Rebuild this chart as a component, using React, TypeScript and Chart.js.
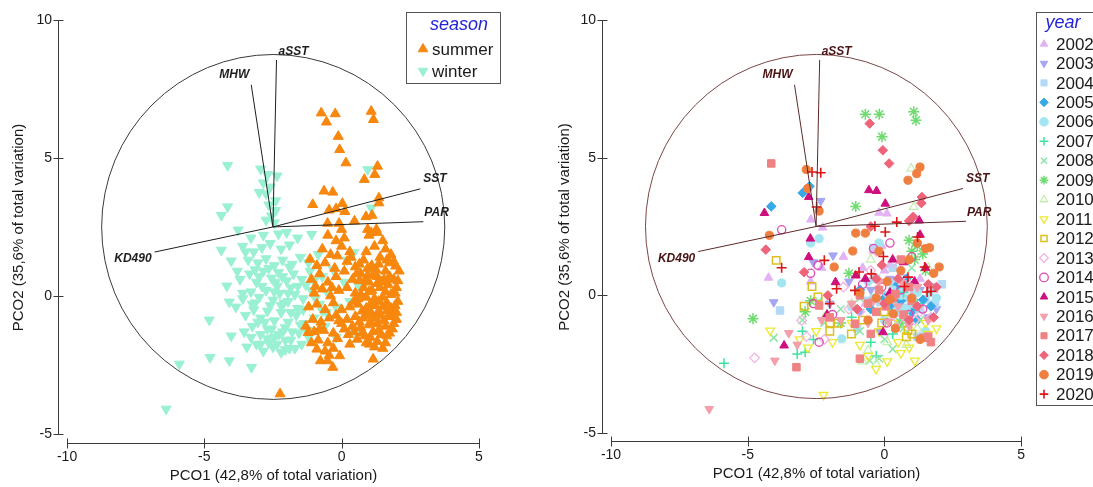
import React, { useEffect, useRef } from 'react';
import { Chart, registerables } from 'chart.js';
import { drawPoint } from 'chart.js/helpers';

Chart.register(...registerables);

const FONT = '"Liberation Sans", Arial, Helvetica, sans-serif';

// ---------------- data ----------------
const xTicks = [-10, -5, 0, 5];
const yTicks = [-5, 0, 5, 10];
const xTitle = 'PCO1 (42,8% of total variation)';
const yTitle = 'PCO2 (35,6% of total variation)';

const vectorNames = ['aSST', 'MHW', 'SST', 'PAR', 'KD490'];
const vectorX = [-2.37, -3.29, 2.87, 2.98, -6.81];
const vectorY = [8.55, 7.65, 3.88, 2.69, 1.59];
const vectorOrigin = [-2.5, 2.5];
const circleCenter = [-2.49, 2.5];
const circleRadius = 6.25;

const seasonNames = ['summer', 'winter'];
const summer: number[][] = [
  [-0.74, 6.63], [-0.23, 6.6], [-0.55, 6.3], [1.08, 6.69], [1.16, 6.39], [-0.12, 5.78], [-0.07, 5.3],
  [0.16, 4.82], [1.31, 4.7], [1.21, 4.4], [0.83, 4.22], [-0.64, 3.8], [-0.32, 3.76], [-1.05, 3.31],
  [1.36, 3.55], [1.36, 3.37], [0.03, 3.35], [-0.45, 3.11], [-0.2, 3.16], [0.12, 3.06], [0.47, 2.71],
  [0.89, 2.87], [1.11, 2.92], [-0.51, 2.63], [-0.09, 2.63], [0.0, 2.41], [0.95, 2.41], [1.27, 2.41],
  [1.08, 2.29], [-2.24, -3.55],
  [-0.5, 2.2], [-0.2, 2.0], [0.1, 2.1], [0.0, 1.8], [-0.7, 1.7], [-0.4, 1.5], [0.3, 1.6], [1.0, 2.2],
  [1.3, 2.3], [1.5, 2.0], [1.2, 1.8], [0.9, 1.6], [1.6, 1.7], [1.8, 1.5], [1.4, 1.4], [-1.15, 1.33],
  [-0.9, 1.1], [-0.6, 1.2], [-0.25, 1.0], [0.2, 1.25], [0.5, 1.05], [0.8, 1.3], [1.1, 1.1], [1.97, 1.08],
  [2.1, 0.9], [1.75, 1.2],
  [-1.1, 0.6], [-0.8, 0.8], [-0.5, 0.5], [-0.2, 0.7], [0.1, 0.9], [0.4, 0.6], [0.7, 0.8], [1.0, 0.5],
  [1.3, 0.7], [1.6, 0.9], [1.9, 0.6], [2.0, 0.3], [1.7, 0.4], [1.4, 0.3], [1.1, 0.2], [0.8, 0.3],
  [0.5, 0.1], [0.2, 0.3], [-0.1, 0.2], [-0.4, 0.0], [-0.7, 0.25], [-1.0, 0.1], [1.8, 0.05], [1.5, -0.05],
  [1.2, -0.1], [0.9, -0.05], [2.05, -0.2], [0.65, 0.55], [1.25, 0.95], [1.55, 0.6], [0.95, 0.75],
  [-1.2, -0.4], [-0.9, -0.3], [-0.6, -0.5], [-0.3, -0.25], [0.0, -0.5], [0.3, -0.4], [0.6, -0.3],
  [0.9, -0.45], [1.2, -0.35], [1.5, -0.4], [1.8, -0.45], [2.0, -0.6], [1.7, -0.75], [1.4, -0.7],
  [1.1, -0.65], [0.8, -0.8], [0.5, -0.75], [0.2, -0.85], [-0.1, -0.9], [-0.45, -0.8], [-0.75, -0.95],
  [-1.05, -0.85], [-1.3, -1.1], [-1.0, -1.3], [-0.65, -1.25], [-0.3, -1.35], [0.1, -1.2], [0.4, -1.1],
  [0.7, -1.15], [1.0, -1.05], [1.3, -1.0], [1.6, -1.1], [1.9, -1.0], [1.75, -1.35], [1.45, -1.4],
  [1.15, -1.3], [0.85, -1.45], [-1.22, -1.33], [-0.85, -1.6], [-0.5, -1.7], [-0.15, -1.55], [0.57, -1.57],
  [1.02, -1.75], [1.3, -1.65], [1.6, -1.7], [-0.9, -1.93], [-0.6, -2.0], [-0.3, -1.9], [-0.77, -2.35],
  [-0.51, -2.35], [-0.32, -2.59], [-0.07, -2.17], [1.15, -2.29], [0.0, -1.0], [0.25, -1.4],
  [0.75, -0.55], [1.35, -0.2], [1.65, -0.25], [0.45, -0.2], [1.05, -0.95], [1.85, -0.75],
  [0.65, 1.15], [0.95, 1.0], [1.35, 1.15], [1.65, 1.3], [1.9, 1.25], [0.55, 0.8], [0.85, 0.55],
  [1.15, 0.75], [1.45, 0.5], [1.75, 0.7], [2.05, 0.55], [0.7, 0.05], [1.0, 0.15], [1.3, 0.45],
  [1.6, 0.15], [1.95, 0.1], [0.6, -0.1], [1.05, -0.3], [1.35, -0.55], [1.65, -0.55], [1.95, -0.35],
  [0.65, -0.95], [0.95, -0.7], [1.25, -0.8], [1.55, -0.9], [1.85, -1.2], [0.75, -1.35], [1.05, -1.5],
  [1.35, -1.25], [1.65, -1.45], [2.0, -0.85], [0.9, -1.7], [1.2, -1.85], [1.5, -1.9], [0.45, -1.3],
  [-0.8, -1.2], [-1.1, -1.7], [-0.45, -2.15], [-0.2, -0.7], [0.3, -1.75], [-0.95, 0.35], [-0.35, 0.3],
  [0.35, 1.4], [-0.15, 1.45],
];
const winter: number[][] = [
  [-2.95, 4.6], [-2.7, 4.4], [-2.35, 4.35], [-2.85, 4.1], [-2.6, 3.95], [-3.0, 3.75], [-2.75, 3.7],
  [-2.4, 3.45], [-2.65, 3.3], [-2.4, 3.1], [-2.55, 2.9], [-2.75, 2.75], [-2.45, 2.65], [-4.15, 4.73],
  [-4.38, 2.92], [-4.15, 3.23], [-3.77, 2.39], [-3.3, 2.1], [-2.85, 2.2], [-2.3, 2.25], [-2.0, 2.3],
  [-4.38, 1.66], [-4.02, 1.27], [-3.6, 1.8], [-3.2, 1.6], [-2.9, 1.75], [-2.6, 1.9], [-2.2, 1.7],
  [-1.9, 1.85], [-1.6, 2.1], [-1.09, 2.23], [-3.4, 1.3], [-3.05, 1.2], [-2.75, 1.35], [-2.45, 1.1],
  [-2.15, 1.3], [-1.8, 1.15], [-1.5, 1.4], [-1.2, 1.2], [-0.85, 1.5], [0.44, 1.57], [0.2, 1.3],
  [-4.18, 0.36], [-3.7, 0.6], [-3.35, 0.8], [-3.1, 0.5], [-2.85, 0.9], [-2.55, 0.65], [-2.3, 0.85],
  [-2.0, 0.55], [-1.75, 0.8], [-1.45, 0.6], [-1.15, 0.9], [-0.7, 0.7], [-0.3, 0.95], [0.1, 0.5],
  [0.6, 0.4], [1.0, 0.9], [-4.09, -0.22], [-3.6, -0.1], [-3.3, 0.15], [-3.0, -0.05], [-2.75, 0.2],
  [-2.5, -0.15], [-2.25, 0.1], [-1.95, -0.2], [-1.7, 0.05], [-1.4, -0.1], [-1.1, 0.2], [-0.8, -0.3],
  [-0.5, 0.1], [-0.2, -0.4], [0.3, -0.2], [-4.82, -0.87], [-4.02, -1.45], [-3.5, -0.7], [-3.2, -0.5],
  [-2.95, -0.8], [-2.7, -0.55], [-2.45, -0.9], [-2.2, -0.6], [-1.95, -0.95], [-1.65, -0.7], [-1.35, -1.0],
  [-1.0, -0.8], [-0.6, -1.1], [-3.55, -1.3], [-3.25, -1.1], [-2.95, -1.4], [-2.7, -1.2], [-2.45, -1.5],
  [-2.15, -1.3], [-1.85, -1.6], [-1.55, -1.35], [-1.2, -1.5], [-3.45, -1.85], [-3.1, -1.75], [-2.85, -2.0],
  [-2.5, -1.85], [-2.2, -2.05], [-1.9, -1.9], [-4.79, -2.23], [-4.09, -2.35], [-3.28, -2.59],
  [-5.91, -2.47], [-6.39, -4.1], [0.95, 4.58], [1.08, 3.19], [-0.2, -1.5], [0.5, -1.3], [-3.8, 0.9],
  [-2.6, -0.35], [-3.85, -0.4], [-2.1, -0.25], [-1.6, -0.45], [-2.9, 0.35], [-2.35, 0.35], [-1.85, 0.3],
  [-3.15, -0.25], [-2.05, -1.6], [-2.65, -1.7], [-1.45, -1.75], [-0.95, -0.1], [-0.55, -0.6],
  [-3.25, -0.3], [-3.0, 0.7], [-2.65, 1.0], [-2.4, 0.5], [-2.15, 0.7], [-1.9, 1.05], [-1.6, 0.35],
  [-1.3, 0.4], [-2.8, -0.95], [-2.55, -1.2], [-2.3, -1.4], [-2.05, -1.15], [-1.8, -1.3], [-1.5, -1.05],
  [-2.35, -1.75], [-2.05, -1.95], [-2.7, -1.55], [-3.05, -0.95], [-3.3, -1.5], [-1.7, -1.9], [-1.25, -1.25],
  [-2.95, -1.75], [-2.2, -0.35], [-1.85, -0.6], [-1.4, -0.5], [-2.45, 0.15], [-1.95, 0.1], [-3.15, 0.95],
  [-3.5, 1.6], [-3.6, 0.1], [-1.0, 0.55], [-0.7, -0.55],
];

const years = ['2002', '2003', '2004', '2005', '2006', '2007', '2008', '2009', '2010', '2011',
  '2012', '2013', '2014', '2015', '2016', '2017', '2018', '2019', '2020'];
const yr2002 = [[-4.24, 0.64], [-2.69, 2.75], [-2.26, 2.46], [0.09, 2.97], [-0.2, 3.0], [-0.4, 1.6], [-0.1, 1.8], [0.2, 1.1], [-2.3, 1.0], [-2.7, 0.5], [0.6, 0.8], [1.3, 0.6], [1.8, 0.2], [-0.7, -0.3], [0.3, -0.6], [-1.5, 1.4], [0.0, 0.9], [-0.8, 1.0], [1.0, 0.0]];
const yr2003 = [[-4.05, -0.25], [-2.33, 3.43], [-1.88, 1.45], [-2.6, 1.2], [-1.3, 0.5], [-0.5, 0.2], [0.4, -0.2], [1.0, -0.4], [1.6, -0.8], [-0.2, -1.3], [0.8, 0.3], [1.9, -0.5], [-2.0, -0.3], [0.2, 0.6], [-0.9, -0.6], [1.3, 0.2]];
const yr2004 = [[-3.82, -0.55], [-1.2, -0.4], [-0.6, -0.2], [0.1, 0.0], [0.5, -0.3], [0.9, -0.1], [1.3, -0.5], [1.7, 0.3], [2.1, 0.4], [-0.3, 0.6], [0.3, 1.0], [-1.0, -1.2], [1.2, -1.5], [-0.4, 1.7], [0.7, -0.8], [0.15, -0.35], [0.55, 0.15], [1.0, 0.3], [1.5, -0.15], [0.75, -0.45], [-0.15, -0.25], [1.85, -0.3], [0.35, 0.45]];
const yr2005 = [[-4.14, 3.23], [-2.99, 3.72], [-2.74, 3.96], [1.41, -0.16], [0.2, -0.4], [0.6, -0.2], [-0.5, -0.5], [1.0, -0.6], [1.7, -0.4], [0.4, 0.3], [-0.9, 0.2], [0.0, -0.1], [1.2, -0.9], [0.8, 0.6]];
const yr2006 = [[-3.76, 0.45], [-2.39, 2.06], [-1.56, -1.58], [-2.7, 1.9], [0.3, 0.2], [0.8, -0.5], [1.5, -1.3], [-0.2, 1.9], [1.9, -0.1], [0.0, -0.9], [-0.6, 0.5], [1.2, 0.1], [0.6, 0.0], [1.05, -0.3], [-0.4, -0.1], [0.45, -0.55], [1.65, 0.1]];
const yr2007 = [[-5.87, -2.47], [-3.19, -2.13], [-2.9, -2.07], [-3.0, -1.3], [-2.6, -1.6], [-0.5, -1.7], [-0.3, -2.2], [0.3, -1.4], [-1.2, -0.8], [1.2, -0.3], [0.7, 0.1]];
const yr2008 = [[-4.05, -1.54], [-0.54, -2.37], [-0.2, -2.3], [-3.0, -0.9], [-2.2, -1.0], [-1.6, -0.5], [-0.9, -0.1], [0.0, -1.6], [0.5, -0.9], [1.3, -0.9], [1.0, 1.0], [-2.4, -0.2], [0.3, -1.95], [-0.9, -1.3], [0.7, -1.2]];
const yr2009 = [[-4.81, -0.85], [-0.7, 6.58], [-0.19, 6.58], [1.07, 6.67], [1.15, 6.36], [-0.09, 5.76], [-1.05, 3.23], [1.0, 1.6], [1.2, 1.8], [1.4, 1.5], [1.1, 1.3], [-1.3, 0.8], [-2.9, -0.6], [-2.7, -0.2], [0.6, -1.0], [1.5, 0.9], [-1.6, -1.0], [0.9, 2.0]];
const yr2010 = [[0.98, 4.6], [1.07, 3.21], [-0.8, -2.4], [-0.6, -2.0], [0.8, -1.8], [-2.2, -0.8], [-1.2, -0.3], [0.2, -0.7], [1.6, 1.0], [-0.5, 1.3], [0.4, -1.2], [-0.3, -2.5], [1.2, -1.2], [0.1, -1.7]];
const yr2011 = [[-4.18, -1.28], [-2.23, -3.62], [1.11, -2.37], [-0.31, -2.67], [0.5, -1.7], [0.9, -1.9], [-0.6, -2.2], [-3.1, -1.6], [-2.8, -1.9], [-1.9, -1.7], [-1.2, -1.0], [1.6, -1.4], [1.9, -1.2], [-0.2, -1.3], [0.1, -2.4], [-2.5, -1.3], [0.6, -2.1], [-0.9, -1.8], [1.5, -1.0], [0.3, -1.0]];
const yr2012 = [[-3.96, 1.27], [-2.65, 0.32], [-2.43, -0.06], [-1.21, -1.4], [-2.94, -0.4], [-1.69, -1.01], [0.86, -1.28], [-2.0, -1.0], [0.0, -0.6], [-0.8, -0.9], [1.0, -1.4], [-2.0, -1.3], [0.8, -1.5], [-0.1, -1.0]];
const yr2013 = [[-4.75, -2.27], [-3.03, -0.91], [-1.3, -0.5], [-2.85, -1.5], [-0.5, 0.9], [0.3, 1.2], [-0.1, -0.1], [1.7, -0.8], [0.8, 0.5], [-2.2, -1.6], [-0.3, 1.6], [1.3, -0.6], [-0.9, -0.6], [0.5, -0.9], [1.1, -0.9], [-1.5, 0.3]];
const yr2014 = [[-3.76, 2.38], [-2.39, -1.7], [-2.43, 1.09], [0.2, 1.9], [-0.4, 1.7], [-1.9, -0.7], [-2.7, 0.8], [0.6, 0.2], [1.4, -0.5], [-0.8, 0.4], [0.1, -1.0], [1.0, 1.4], [-2.6, -0.3], [0.9, -0.7], [-0.1, 0.3]];
const yr2015 = [[-4.39, 2.99], [-3.67, -1.82], [-2.71, 2.06], [-2.77, 1.39], [-2.77, 3.57], [-0.57, 3.82], [-0.29, 3.79], [0.03, 3.33], [-1.79, 0.48], [-2.1, -0.7], [-1.05, 0.72], [1.27, 2.72], [-0.05, -1.34], [1.3, 2.2], [0.3, 1.3], [0.7, 1.2], [1.1, 0.5], [0.2, 0.1], [-0.7, 0.6], [1.5, 1.0]];
const yr2016 = [[-6.41, -4.13], [-4.01, -2.37], [-3.5, -1.37], [-3.19, -1.79], [-1.2, -0.3], [-0.6, -1.0], [0.5, -0.4], [1.6, -0.9], [-2.3, -0.9], [0.9, -1.1], [-0.2, 0.5], [1.2, 0.3], [-0.4, -0.2], [0.15, -0.95], [0.65, 0.45], [-1.6, -0.9]];
const yr2017 = [[-4.14, 4.79], [-3.22, -2.61], [-2.39, -0.37], [-1.08, -1.03], [1.43, -1.54], [1.7, -1.7], [-0.9, -2.3], [-0.6, -0.3], [0.3, -0.1], [0.6, 1.3], [-0.3, -0.6], [-2.0, -0.8], [1.0, -0.2], [-0.5, -1.4], [0.7, -0.7], [0.05, -0.4], [0.4, 0.05], [-0.2, 0.2], [0.9, 0.3], [-0.9, 0.0], [1.6, -1.5]];
const yr2018 = [[-0.54, 6.24], [-0.06, 5.27], [0.17, 4.79], [1.37, 3.57], [1.35, 3.35], [-4.34, 1.66], [-2.94, 0.84], [-2.07, 0.0], [-0.5, 2.5], [1.05, 2.85], [0.9, 2.7], [-0.1, 1.1], [0.5, 0.6], [1.9, 0.3], [1.8, -0.8], [-1.0, -0.5], [0.0, -0.3], [1.2, -0.4], [0.9, -0.9], [1.6, 0.4], [-0.3, 0.6]];
const yr2019 = [[-2.86, 4.57], [-2.81, 3.88], [-2.39, 3.06], [-4.21, 2.18], [1.3, 4.66], [1.18, 4.42], [0.86, 4.18], [-1.05, 2.26], [-0.7, 2.26], [-1.84, 1.03], [-1.16, 1.61], [1.65, 1.73], [2.0, 1.03], [0.32, -0.67], [-0.9, 0.1], [-0.3, -0.1], [0.6, 0.9], [1.2, 1.9], [1.5, 1.7], [1.8, 0.8], [0.1, 0.5], [0.4, -1.2], [1.3, -1.6], [-0.6, -0.9], [0.2, -0.15], [0.9, 1.3], [-0.2, 1.6], [1.0, -0.1]];
const yr2020 = [[-2.65, 4.48], [-2.33, 4.45], [-2.48, 3.21], [-2.2, 1.27], [-3.76, 1.0], [-1.75, 0.24], [-0.93, 0.85], [-0.48, 0.78], [-0.35, 2.51], [0.03, 2.3], [0.45, 2.66], [-0.04, 1.41], [1.47, 1.03], [1.56, 0.12], [1.21, 2.12], [-1.08, 0.18], [0.73, 0.32], [0.86, 0.66], [1.7, 0.15], [-2.0, -0.3]];
const yearPoints = [yr2002, yr2003, yr2004, yr2005, yr2006, yr2007, yr2008, yr2009, yr2010, yr2011,
  yr2012, yr2013, yr2014, yr2015, yr2016, yr2017, yr2018, yr2019, yr2020];

// ---------------- styles ----------------
type MStyle = { style: string; rot: number; color: string; fill: boolean; r: number; bw: number };
const seasonStyles: MStyle[] = [
  { style: 'triangle', rot: 0, color: '#F7870D', fill: true, r: 5.8, bw: 1 },
  { style: 'triangle', rot: 180, color: '#9AF0D2', fill: true, r: 5.8, bw: 1 },
];
const yearStyles: MStyle[] = [
  { style: 'triangle', rot: 0, color: '#E3B2F2', fill: true, r: 5, bw: 1 },
  { style: 'triangle', rot: 180, color: '#A6A6F2', fill: true, r: 5, bw: 1 },
  { style: 'rect', rot: 0, color: '#B3D9F7', fill: true, r: 5.3, bw: 1 },
  { style: 'rectRot', rot: 0, color: '#36A9E6', fill: true, r: 4.8, bw: 1 },
  { style: 'circle', rot: 0, color: '#A3E6F2', fill: true, r: 4.1, bw: 1 },
  { style: 'cross', rot: 0, color: '#3DE3A0', fill: false, r: 5, bw: 1.5 },
  { style: 'crossRot', rot: 0, color: '#8CE6A6', fill: false, r: 5.5, bw: 1.5 },
  { style: 'star', rot: 0, color: '#6EDC6E', fill: false, r: 5.5, bw: 1.5 },
  { style: 'triangle', rot: 0, color: '#C5EFB0', fill: false, r: 5, bw: 1.3 },
  { style: 'triangle', rot: 180, color: '#EDE933', fill: false, r: 5, bw: 1.3 },
  { style: 'rect', rot: 0, color: '#DDBF1E', fill: false, r: 5.3, bw: 1.5 },
  { style: 'rectRot', rot: 0, color: '#F2B3E3', fill: false, r: 4.8, bw: 1.3 },
  { style: 'circle', rot: 0, color: '#DE4CB0', fill: false, r: 4.1, bw: 1.3 },
  { style: 'triangle', rot: 0, color: '#CF0F7E', fill: true, r: 5, bw: 1 },
  { style: 'triangle', rot: 180, color: '#F39EAA', fill: true, r: 5, bw: 1 },
  { style: 'rect', rot: 0, color: '#EF8282', fill: true, r: 5.3, bw: 1 },
  { style: 'rectRot', rot: 0, color: '#EE6479', fill: true, r: 4.8, bw: 1 },
  { style: 'circle', rot: 0, color: '#EF7F3F', fill: true, r: 4.1, bw: 1 },
  { style: 'cross', rot: 0, color: '#DD1616', fill: false, r: 5, bw: 1.6 },
];

const labelPlace: Record<string, { dx: number; dy: number; align: CanvasTextAlign }> = {
  aSST: { dx: 2, dy: -8, align: 'left' },
  MHW: { dx: -2, dy: -10, align: 'right' },
  SST: { dx: 3, dy: -10, align: 'left' },
  PAR: { dx: 1, dy: -9, align: 'left' },
  KD490: { dx: -3, dy: 7, align: 'right' },
};

type Panel = {
  left: number; width: number; yAxisWidth: number; xAxisHeight: number;
  xMin: number; xMax: number; yMin: number; yMax: number;
  circleColor: string; vectorColor: string; labelColor: string;
  legend: { x: number; y: number; w: number; h: number; title: string; titleX: number; titleY: number;
    markerX: number; textX: number; firstY: number; step: number; markerR: number };
  names: string[]; points: number[][][]; styles: MStyle[]; topFirst: boolean;
};

const panels: Panel[] = [
  {
    left: 0, width: 546, yAxisWidth: 58, xAxisHeight: 44,
    xMin: -10.33, xMax: 7.2, yMin: -5.33, yMax: 10,
    circleColor: '#3a3a3a', vectorColor: '#1e1e1e', labelColor: '#1e1e1e',
    legend: { x: 406, y: 12, w: 94, h: 71, title: 'season', titleX: 459, titleY: 25, markerX: 423, textX: 432, firstY: 49, step: 22, markerR: 5.5 },
    names: seasonNames, points: [summer, winter], styles: seasonStyles, topFirst: true,
  },
  {
    left: 546, width: 547, yAxisWidth: 56, xAxisHeight: 46,
    xMin: -10.33, xMax: 7.37, yMin: -5.29, yMax: 10,
    circleColor: '#7a4646', vectorColor: '#5c2a2a', labelColor: '#4a1414',
    legend: { x: 490, y: 12, w: 70, h: 393, title: 'year', titleX: 517, titleY: 23, markerX: 498, textX: 510, firstY: 44, step: 19.45, markerR: 4.3 },
    names: years, points: yearPoints, styles: yearStyles, topFirst: false,
  },
];

function markerOpts(s: MStyle) {
  return {
    pointStyle: s.style as any,
    pointRotation: s.rot,
    pointRadius: s.r,
    pointHoverRadius: s.r,
    pointBorderWidth: s.bw,
    pointBorderColor: s.color,
    pointBackgroundColor: s.fill ? s.color : 'rgba(0,0,0,0)',
  };
}

function drawMarker(ctx: CanvasRenderingContext2D, s: MStyle, x: number, y: number, r: number) {
  ctx.save();
  ctx.fillStyle = s.fill ? s.color : 'rgba(0,0,0,0)';
  ctx.strokeStyle = s.color;
  ctx.lineWidth = s.bw;
  drawPoint(ctx, { pointStyle: s.style as any, rotation: s.rot, radius: r, borderWidth: s.bw } as any, x, y);
  ctx.restore();
}

function makeOverlay(p: Panel) {
  return {
    id: 'pcoOverlay',
    afterDatasetsDraw(chart: any) {
      const { ctx } = chart;
      const xs = chart.scales.x;
      const ys = chart.scales.y;
      ctx.save();
      const cx = xs.getPixelForValue(circleCenter[0]);
      const cy = ys.getPixelForValue(circleCenter[1]);
      const rx = Math.abs(xs.getPixelForValue(circleCenter[0] + circleRadius) - cx);
      const ry = Math.abs(ys.getPixelForValue(circleCenter[1] + circleRadius) - cy);
      ctx.beginPath();
      ctx.ellipse(cx, cy, rx, ry, 0, 0, Math.PI * 2);
      ctx.strokeStyle = p.circleColor;
      ctx.lineWidth = 1;
      ctx.stroke();
      const ox = xs.getPixelForValue(vectorOrigin[0]);
      const oy = ys.getPixelForValue(vectorOrigin[1]);
      ctx.font = `italic bold 12px ${FONT}`;
      ctx.textBaseline = 'middle';
      vectorNames.forEach((name, i) => {
        const ex = xs.getPixelForValue(vectorX[i]);
        const ey = ys.getPixelForValue(vectorY[i]);
        ctx.beginPath();
        ctx.moveTo(ox, oy);
        ctx.lineTo(ex, ey);
        ctx.strokeStyle = p.vectorColor;
        ctx.lineWidth = 1;
        ctx.stroke();
        const lp = labelPlace[name];
        ctx.fillStyle = p.labelColor;
        ctx.textAlign = lp.align;
        ctx.fillText(name, ex + lp.dx, ey + lp.dy);
      });
      ctx.restore();
    },
    afterDraw(chart: any) {
      const { ctx, chartArea } = chart;
      const xs = chart.scales.x;
      const ys = chart.scales.y;
      ctx.save();
      ctx.strokeStyle = '#3a3a3a';
      ctx.lineWidth = 1;
      const ax = Math.round(chartArea.left) + 0.5;
      const ay = Math.round(chartArea.bottom) + 0.5;
      const yTop = Math.round(ys.getPixelForValue(yTicks[yTicks.length - 1])) + 0.5;
      const yBot = Math.round(ys.getPixelForValue(yTicks[0])) + 0.5;
      ctx.beginPath();
      ctx.moveTo(ax, yTop);
      ctx.lineTo(ax, yBot);
      yTicks.forEach((v) => {
        const py = Math.round(ys.getPixelForValue(v)) + 0.5;
        ctx.moveTo(ax - 5, py);
        ctx.lineTo(ax + 5, py);
      });
      const xL = Math.round(xs.getPixelForValue(xTicks[0])) + 0.5;
      const xR = Math.round(xs.getPixelForValue(xTicks[xTicks.length - 1])) + 0.5;
      ctx.moveTo(xL, ay);
      ctx.lineTo(xR, ay);
      xTicks.forEach((v) => {
        const px = Math.round(xs.getPixelForValue(v)) + 0.5;
        ctx.moveTo(px, ay - 5);
        ctx.lineTo(px, ay + 5);
      });
      ctx.stroke();

      ctx.fillStyle = '#1a1a1a';
      ctx.font = `15px ${FONT}`;
      ctx.textAlign = 'center';
      ctx.textBaseline = 'middle';
      ctx.fillText(xTitle, (xL + xR) / 2, ay + 32);
      ctx.save();
      ctx.translate(19, (yTop + yBot) / 2);
      ctx.rotate(-Math.PI / 2);
      ctx.fillText(yTitle, 0, 0);
      ctx.restore();

      const L = p.legend;
      ctx.fillStyle = '#ffffff';
      ctx.fillRect(L.x, L.y, L.w, L.h);
      ctx.strokeStyle = '#555555';
      ctx.strokeRect(L.x + 0.5, L.y + 0.5, L.w, L.h);
      ctx.fillStyle = '#2323D8';
      ctx.font = `italic 18px ${FONT}`;
      ctx.textAlign = 'center';
      ctx.fillText(L.title, L.titleX, L.titleY);
      ctx.font = `17px ${FONT}`;
      ctx.textAlign = 'left';
      p.names.forEach((name, i) => {
        const yy = L.firstY + i * L.step;
        drawMarker(ctx, p.styles[i], L.markerX, yy, L.markerR);
        ctx.fillStyle = '#1a1a1a';
        ctx.fillText(name, L.textX, yy + 1);
      });
      ctx.restore();
    },
  };
}

function buildConfig(p: Panel): any {
  const n = p.names.length;
  const datasets = p.names.map((name, i) => ({
    label: name,
    data: p.points[i].map(([x, y]) => ({ x, y })),
    ...markerOpts(p.styles[i]),
    showLine: false,
    clip: false as any,
    order: p.topFirst ? i : n - i,
  }));
  const tickFont = { family: FONT, size: 14 };
  return {
    type: 'scatter',
    data: { datasets },
    options: {
      responsive: false,
      animation: false,
      devicePixelRatio: 1,
      events: [],
      layout: { padding: { top: 20, right: 6, left: 0, bottom: 0 } },
      plugins: { legend: { display: false }, tooltip: { enabled: false }, title: { display: false } },
      scales: {
        x: {
          type: 'linear', position: 'bottom', min: p.xMin, max: p.xMax,
          grid: { display: false, drawTicks: false }, border: { display: false },
          ticks: { font: tickFont, color: '#1a1a1a', padding: 6, maxRotation: 0, autoSkip: false, callback: (v: number) => String(v) },
          afterBuildTicks: (s: any) => { s.ticks = xTicks.map((v) => ({ value: v })); },
          afterFit: (s: any) => { s.height = p.xAxisHeight; },
        },
        y: {
          type: 'linear', position: 'left', min: p.yMin, max: p.yMax,
          grid: { display: false, drawTicks: false }, border: { display: false },
          ticks: { font: tickFont, color: '#1a1a1a', padding: 6, autoSkip: false, callback: (v: number) => String(v) },
          afterBuildTicks: (s: any) => { s.ticks = yTicks.map((v) => ({ value: v })); },
          afterFit: (s: any) => { s.width = p.yAxisWidth; },
        },
      },
    },
    plugins: [makeOverlay(p)],
  };
}

function PcoPanel({ panel }: { panel: Panel }) {
  const ref = useRef<HTMLCanvasElement>(null);
  useEffect(() => {
    if (!ref.current) return;
    const chart = new Chart(ref.current, buildConfig(panel));
    return () => chart.destroy();
  }, [panel]);
  return (
    <canvas
      ref={ref}
      width={panel.width}
      height={487}
      style={{ position: 'absolute', left: panel.left, top: 0, width: panel.width, height: 487 }}
    />
  );
}

export default function App() {
  return (
    <div style={{ position: 'fixed', left: 0, top: 0, width: 1093, height: 487, background: '#ffffff', overflow: 'hidden' }}>
      {panels.map((p, i) => (
        <PcoPanel key={i} panel={p} />
      ))}
    </div>
  );
}
